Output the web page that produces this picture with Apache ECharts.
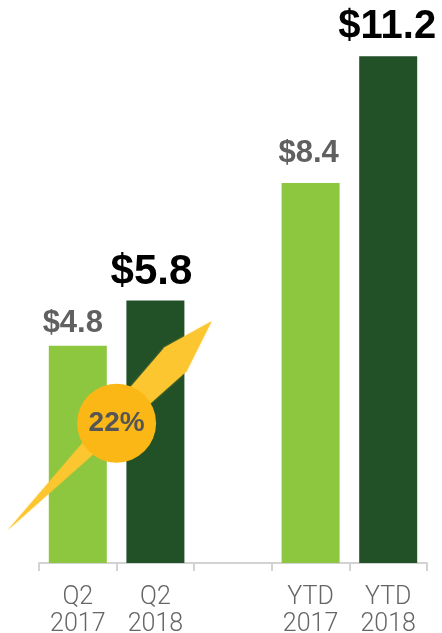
<!DOCTYPE html>
<html>
<head>
<meta charset="utf-8">
<style>
  html, body { margin: 0; padding: 0; background: #ffffff; }
  #chart { width: 442px; height: 633px; }
</style>
<script src="https://cdn.jsdelivr.net/npm/echarts@6/dist/echarts.min.js"></script>
</head>
<body>
<div id="chart"></div>
<script>
// Revenue by period, in $ billions; the empty slot separates quarter and year-to-date
const categories = ['Q2\n2017', 'Q2\n2018', '', 'YTD\n2017', 'YTD\n2018'];
const values = [4.8, 5.8, null, 8.4, 11.2];
const valueLabels = ['$4.8', '$5.8', '', '$8.4', '$11.2'];
const growthLabel = '22%';

const LIGHT_GREEN = '#8dc63f';
const DARK_GREEN = '#225128';

// per-bar styling: prior period light green with grey label, current period dark green with big black label
const barStyles = [
  { color: LIGHT_GREEN, text: '#606060', size: 31, dist: 7, dx: -5 },
  { color: DARK_GREEN, text: '#000000', size: 42, dist: 7, dx: -4 },
  null,
  { color: LIGHT_GREEN, text: '#606060', size: 31, dist: 14, dx: -2 },
  { color: DARK_GREEN, text: '#000000', size: 40, dist: 9, dx: -1 }
];

const chart = echarts.init(document.getElementById('chart'), null, { renderer: 'canvas' });

const barData = values.map((v, i) => {
  const s = barStyles[i];
  if (v == null || !s) return '-';
  return {
    value: v,
    itemStyle: { color: s.color },
    label: {
      show: true,
      position: 'top',
      distance: s.dist,
      offset: [s.dx, 0],
      formatter: valueLabels[i],
      color: s.text,
      fontSize: s.size,
      fontWeight: 'bold',
      fontFamily: 'Liberation Sans, Arial, sans-serif'
    }
  };
});

chart.setOption({
  animation: false,
  backgroundColor: '#ffffff',
  grid: { left: 39, right: 15, top: 20, bottom: 70, containLabel: false, outerBoundsMode: 'none' },
  xAxis: {
    type: 'category',
    data: categories,
    boundaryGap: true,
    axisLine: { show: true, lineStyle: { color: '#d3d3d3', width: 2 } },
    axisTick: { show: true, length: 8, lineStyle: { color: '#d3d3d3', width: 2 } },
    axisLabel: {
      margin: 21,
      color: '#666666',
      fontSize: 25,
      lineHeight: 27,
      fontWeight: 300,
      fontFamily: 'Roboto, Liberation Sans, sans-serif',
      interval: 0
    }
  },
  yAxis: {
    type: 'value',
    min: 0,
    max: 12,
    show: false,
    splitLine: { show: false }
  },
  series: [{
    type: 'bar',
    data: barData,
    barWidth: 58
  }]
});

// growth badge: arrow rising between the two quarter bars with a circle carrying the percentage
const pLeft = chart.convertToPixel({ xAxisIndex: 0, yAxisIndex: 0 }, [0, 3.09]);
const pRight = chart.convertToPixel({ xAxisIndex: 0, yAxisIndex: 0 }, [1, 3.09]);
const cx = (pLeft[0] + pRight[0]) / 2;
const cy = pLeft[1];

// arrow outline, offsets from the badge centre
const arrowShape = [[-109, 107], [48, -76], [95, -102], [70, -52]];

chart.setOption({
  graphic: [
    {
      type: 'polygon',
      z: 100,
      shape: { points: arrowShape.map(p => [cx + p[0], cy + p[1]]) },
      style: { fill: '#fcc630', shadowBlur: 2, shadowColor: 'rgba(252,198,48,0.6)' }
    },
    {
      type: 'circle',
      z: 101,
      shape: { cx: cx, cy: cy, r: 39.5 },
      style: { fill: '#fbb715' }
    },
    {
      type: 'text',
      z: 102,
      x: cx,
      y: cy,
      style: {
        text: growthLabel,
        align: 'center',
        verticalAlign: 'middle',
        fill: '#555555',
        font: 'bold 28px "Liberation Sans", Arial, sans-serif'
      }
    }
  ]
});
</script>
</body>
</html>
